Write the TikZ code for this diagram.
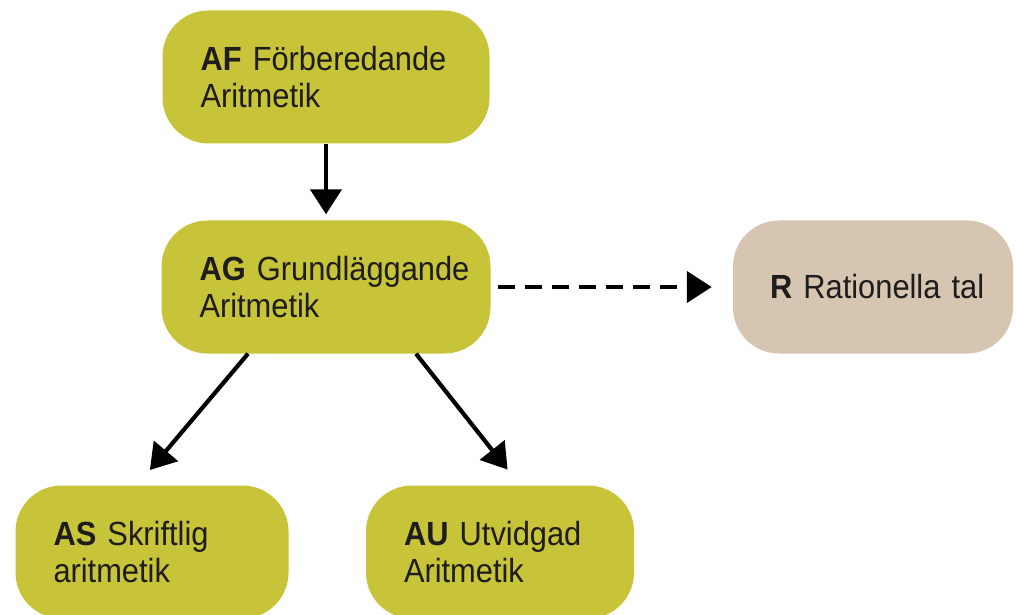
\documentclass[tikz,border=0pt]{standalone}
\usepackage{fontspec}
\setmainfont{Liberation Sans}[FakeStretch=0.92]
\usepackage{xcolor}
\usepackage{tikz}
\usetikzlibrary{shapes,arrows,arrows.meta}
\definecolor{aritgreen}{RGB}{199,196,58}
\definecolor{ratbeige}{RGB}{214,197,177}
\definecolor{textdark}{RGB}{30,28,28}
\tikzstyle{block} = [rectangle, fill=aritgreen, rounded corners=46pt, align=left, text width=253pt, inner xsep=38pt, inner ysep=0pt, minimum height=133pt, text=textdark, font=\fontsize{33.5pt}{37pt}\selectfont]
\tikzstyle{arrow} = [line width=4.2pt,-{Triangle[length=25pt,width=31pt]}]

\begin{document}
\begin{tikzpicture}[x=1pt, y=1pt, node distance=210pt]
    \useasboundingbox (0,0) rectangle (1016,614);
    \node[block, text width=251pt] (AF) at (326,537) {
        \mbox{\textbf{AF} Förberedande}\\
        Aritmetik
    };
    \node[block, below of=AF] (AG) {
        \mbox{\textbf{AG} Grundläggande}\\
        Aritmetik
    };
    \node[block, fill=ratbeige, text width=206pt, inner xsep=37pt, right of=AG, node distance=547pt] (R) {
        \mbox{\textbf{R} Rationella tal}
    };
    \node[block, text width=197pt, below of=AG, node distance=265pt, xshift=-174pt] (AS) {
        \mbox{\textbf{AS} Skriftlig}\\
        aritmetik
    };
    \node[block, text width=192pt, below of=AG, node distance=265pt, xshift=174pt] (AU) {
        \mbox{\textbf{AU} Utvidgad}\\
        Aritmetik
    };

    \draw[arrow, shorten >=6pt] (AF) -- (AG);
    \draw[arrow, dash pattern=on 17pt off 10pt, shorten <=7pt, shorten >=21pt] (AG) -- (R);
    \draw[arrow, shorten >=20pt] ([xshift=-78pt]AG.south) -- ([xshift=-15pt]AS.north);
    \draw[arrow, shorten >=20pt] ([xshift=90pt]AG.south) -- ([xshift=20pt]AU.north);
\end{tikzpicture}
\end{document}
